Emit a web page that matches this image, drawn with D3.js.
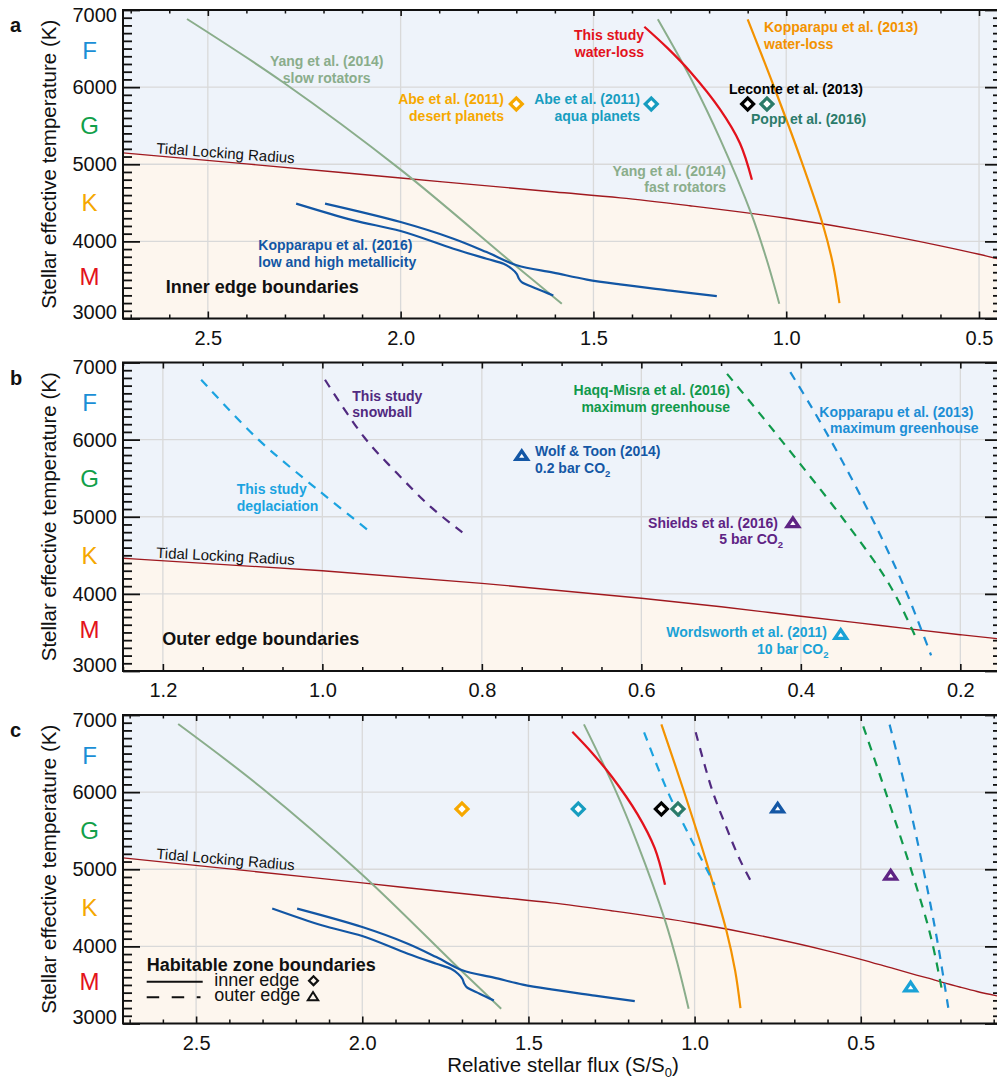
<!DOCTYPE html>
<html>
<head>
<meta charset="utf-8">
<script src="https://cdn.jsdelivr.net/npm/d3@7"></script>
<style>
  body { margin: 0; background: #fff; }
  svg text { font-family: "Liberation Sans", Arial, Helvetica, sans-serif; }
</style>
</head>
<body>
<svg id="chart" width="997" height="1080"></svg>
<script>
// ---------- data: [relative stellar flux S/S0, stellar effective temperature K] ----------
const tidalLocking = [[2.72,5147],[2.4,5005],[2.0,4822],[1.6,4640],[1.43,4565],[1.25,4462],[1.0,4300],[0.8,4137],[0.6,3943],[0.5,3833],[0.4,3710],[0.3,3590],[0.2,3470],[0.15,3415],[0.08,3350]];

// inner edge curves
const yangSlowRotators = [[2.554,6883],[2.304,6060],[2.0,4930],[1.708,3710],[1.582,3191]];
const yangFastRotators = [[1.333,6879],[1.241,6051],[1.172,5333],[1.089,4337],[1.050,3752],[1.018,3192]];
const thisStudyWaterLoss = [[1.368,6783],[1.309,6512],[1.249,6200],[1.172,5715],[1.120,5273],[1.089,4800]];
const kopparapu2013WaterLoss = [[1.100,6879],[1.033,6021],[0.964,5089],[0.904,4200],[0.878,3685],[0.862,3200]];
const kopparapu2016LowZ = [[2.271,4490],[2.122,4273],[2.0,4134],[1.863,3905],[1.777,3775],[1.733,3710],[1.712,3645],[1.699,3580],[1.693,3515],[1.686,3472],[1.647,3386],[1.604,3299]];
const kopparapu2016HighZ = [[2.196,4490],[2.0,4251],[1.863,4035],[1.777,3861],[1.699,3690],[1.604,3595],[1.517,3505],[1.431,3442],[1.30,3362],[1.18,3290]];

// outer edge curves
const thisStudyDeglaciation = [[1.152,6776],[1.0815,6013],[1.023,5495],[0.9896,5215],[0.9394,4797]];
const thisStudySnowball = [[0.9967,6776],[0.9478,6034],[0.906,5560],[0.8642,5128],[0.8245,4797]];
const haqqMisra2016MaxGreenhouse = [[0.4925,6853],[0.4466,6275],[0.4006,5682],[0.3505,5021],[0.3003,4308],[0.2794,3942],[0.2543,3402]];
const kopparapu2013MaxGreenhouse = [[0.4132,6875],[0.3881,6448],[0.3546,5845],[0.3213,5196],[0.2919,4579],[0.2668,4002],[0.2367,3204]];

// single-model results
const innerEdgeFlux = [1.70, 1.35, 1.10, 1.05];     // Abe desert, Abe aqua, Leconte, Popp
const innerEdgeTemp = [5780, 5780, 5780, 5780];
const outerEdgeFlux = [0.75, 0.41, 0.35];           // Wolf & Toon, Shields, Wordsworth
const outerEdgeTemp = [5780, 4910, 3460];

// ticks and labels
const fluxTicksWide = [2.5, 2.0, 1.5, 1.0, 0.5];
const fluxTicksOuter = [1.2, 1.0, 0.8, 0.6, 0.4, 0.2];
const tempTicks = [3000, 4000, 5000, 6000, 7000];
const spectralClasses = ["F", "G", "K", "M"];
const spectralTemps = [6480, 5500, 4500, 3540];

// ---------- styling ----------
const C = {
  sage: "#8aad8b", red: "#e3121c", orange: "#f39200", gold: "#f6a800",
  aqua: "#179dc0", popp: "#2b7b6a", kop16: "#1256a4", haqq: "#10994b",
  kopMG: "#1c8ed5", degl: "#1ba3e0", snow: "#512a80", wolf: "#1457a5",
  shields: "#5e2484", words: "#1aa2d6", tidal: "#a0191f",
  skyBg: "#eef3fa", warmBg: "#fdf6ee", grid: "#d9d9d9"
};
const spectralColors = ["#1a8fd6", "#11a04a", "#f5a700", "#e3131b"];
const innerEdgeColors = [C.gold, C.aqua, "#000000", C.popp];
const outerEdgeColors = [C.wolf, C.shields, C.words];

const innerCurves = [
  { data: yangSlowRotators, color: C.sage, width: 2 },
  { data: yangFastRotators, color: C.sage, width: 2 },
  { data: kopparapu2016LowZ, color: C.kop16, width: 2.2 },
  { data: kopparapu2016HighZ, color: C.kop16, width: 2.2 },
  { data: thisStudyWaterLoss, color: C.red, width: 2.3 },
  { data: kopparapu2013WaterLoss, color: C.orange, width: 2.2 }
];
const outerCurves = [
  { data: thisStudyDeglaciation, color: C.degl, width: 2.2, dash: "9,7.5" },
  { data: thisStudySnowball, color: C.snow, width: 2.2, dash: "9,7.5" },
  { data: haqqMisra2016MaxGreenhouse, color: C.haqq, width: 2.2, dash: "9,7.5" },
  { data: kopparapu2013MaxGreenhouse, color: C.kopMG, width: 2.2, dash: "9,7.5" }
];

// ---------- layout ----------
const L = 123, R = 1001;
const panels = [
  { key: "a", top: 10, bottom: 318.5, domain: [2.72, 0.443], major: fluxTicksWide, step: 0.1, inner: true, outer: false },
  { key: "b", top: 362.5, bottom: 671, domain: [1.25, 0.149], major: fluxTicksOuter, step: 0.05, inner: false, outer: true },
  { key: "c", top: 715, bottom: 1023.5, domain: [2.72, 0.078], major: fluxTicksWide, step: 0.1, inner: true, outer: true }
];

const svg = d3.select("#chart");
const tidalAt = d3.scaleLinear().domain(tidalLocking.map(d => d[0])).range(tidalLocking.map(d => d[1]));

// diamond (rotated square) and flattened triangle marker shapes
const diamondPath = size => d3.symbol(d3.symbolSquare, size)();
function trianglePath(a, h) {
  return d3.line()([[0, -2 * h / 3], [a, h / 3], [-a, h / 3]]) + "Z";
}

function addLabel(g, lines, opts) {
  const t = g.append("text")
    .attr("fill", opts.color)
    .attr("font-weight", opts.weight || "bold")
    .attr("font-size", opts.size || 14)
    .attr("text-anchor", opts.anchor || "start");
  lines.forEach((ln, i) => {
    const x = Array.isArray(opts.x) ? opts.x[i] : opts.x;
    const y = opts.y + i * (opts.lh || 16.6);
    const parts = ln.split("_");
    t.append("tspan").attr("x", x).attr("y", y).text(parts[0]);
    if (parts.length > 1) {
      t.append("tspan").attr("font-size", 9.5).attr("dy", 4).text(parts[1]);
    }
  });
  return t;
}

panels.forEach((p, pi) => {
  const x = d3.scaleLinear().domain(p.domain).range([L, R]);
  const y = d3.scaleLinear().domain([3000, 7000]).range([p.bottom, p.top]);
  const g = svg.append("g");
  const clipId = "clip-" + p.key;
  svg.append("clipPath").attr("id", clipId)
    .append("rect").attr("x", L).attr("y", p.top).attr("width", R - L).attr("height", p.bottom - p.top);
  const body = g.append("g").attr("clip-path", `url(#${clipId})`);

  // backgrounds split by the tidal locking radius
  body.append("rect").attr("x", L).attr("y", p.top).attr("width", R - L).attr("height", p.bottom - p.top).attr("fill", C.skyBg);
  body.append("path").datum(tidalLocking)
    .attr("fill", C.warmBg)
    .attr("d", d3.area().x(d => x(d[0])).y0(p.bottom).y1(d => y(d[1])).curve(d3.curveMonotoneX));

  // grid
  body.selectAll(".gx").data(p.major).join("line")
    .attr("x1", d => x(d)).attr("x2", d => x(d)).attr("y1", p.top).attr("y2", p.bottom)
    .attr("stroke", C.grid).attr("stroke-width", 1.3);
  body.selectAll(".gy").data(tempTicks).join("line")
    .attr("x1", L).attr("x2", R).attr("y1", d => y(d)).attr("y2", d => y(d))
    .attr("stroke", C.grid).attr("stroke-width", 1.3);

  // tidal locking line
  body.append("path").datum(tidalLocking)
    .attr("fill", "none").attr("stroke", C.tidal).attr("stroke-width", 1.3)
    .attr("d", d3.line().x(d => x(d[0])).y(d => y(d[1])).curve(d3.curveMonotoneX));

  const line = d3.line().x(d => x(d[0])).y(d => y(d[1])).curve(d3.curveCatmullRom.alpha(0.5));
  const curves = [].concat(p.inner ? innerCurves : [], p.outer ? outerCurves : []);
  body.selectAll(".curve").data(curves).join("path")
    .attr("fill", "none")
    .attr("stroke", d => d.color)
    .attr("stroke-width", d => d.width)
    .attr("stroke-dasharray", d => d.dash || null)
    .attr("d", d => line(d.data));

  // markers
  if (p.inner) {
    body.selectAll(".dia").data(innerEdgeFlux).join("path")
      .attr("d", diamondPath(72))
      .attr("transform", (d, i) => `translate(${x(d)},${y(innerEdgeTemp[i])}) rotate(45)`)
      .attr("fill", "#fff").attr("stroke", (d, i) => innerEdgeColors[i]).attr("stroke-width", 3.2);
  }
  if (p.outer) {
    body.selectAll(".tri").data(outerEdgeFlux).join("path")
      .attr("d", trianglePath(5.8, 8.6))
      .attr("transform", (d, i) => `translate(${x(d)},${y(outerEdgeTemp[i])})`)
      .attr("fill", "#fff").attr("stroke", (d, i) => outerEdgeColors[i])
      .attr("stroke-width", 3.3).attr("stroke-linejoin", "miter");
  }

  // tidal locking label following the line
  const lx = L + 33;
  const fl = x.invert(lx), fr = x.invert(lx + 120);
  const ly = y(tidalAt(fl)) - 2.5;
  const ang = Math.atan2(y(tidalAt(fr)) - y(tidalAt(fl)), 120) * 180 / Math.PI * 0.8;
  body.append("text")
    .attr("transform", `translate(${lx},${ly}) rotate(${ang})`)
    .attr("font-size", 15).attr("fill", "#111").text("Tidal Locking Radius");

  // frame
  g.append("rect").attr("x", L).attr("y", p.top).attr("width", R - L).attr("height", p.bottom - p.top)
    .attr("fill", "none").attr("stroke", "#111").attr("stroke-width", 2);

  // axes
  const lo = Math.min(...p.domain), hi = Math.max(...p.domain);
  const minorX = d3.range(Math.ceil(lo / p.step - 1e-9), Math.floor(hi / p.step + 1e-9) + 1)
    .map(k => +(k * p.step).toFixed(3))
    .filter(v => !p.major.some(m => Math.abs(m - v) < 1e-6));
  const minorY = d3.range(3100, 7000, 100).filter(v => v % 1000 !== 0);

  function styleAxis(sel, w) {
    sel.select(".domain").remove();
    sel.selectAll(".tick line").attr("stroke", "#111").attr("stroke-width", w);
    sel.attr("font-family", null).attr("font-size", null);
  }

  const bottomMajor = g.append("g").attr("transform", `translate(0,${p.bottom})`)
    .call(d3.axisBottom(x).tickValues(p.major).tickSizeInner(-7).tickSizeOuter(0).tickPadding(12).tickFormat(d3.format(".1f")));
  styleAxis(bottomMajor, 1.6);
  bottomMajor.selectAll("text").attr("font-size", 20).attr("fill", "#111");
  g.append("g").attr("transform", `translate(0,${p.bottom})`)
    .call(d3.axisBottom(x).tickValues(minorX).tickSizeInner(-4).tickSizeOuter(0).tickFormat(""))
    .call(s => styleAxis(s, 1.5));
  g.append("g").attr("transform", `translate(0,${p.top})`)
    .call(d3.axisTop(x).tickValues(p.major).tickSizeInner(-6).tickSizeOuter(0).tickFormat(""))
    .call(s => styleAxis(s, 1.6));
  g.append("g").attr("transform", `translate(0,${p.top})`)
    .call(d3.axisTop(x).tickValues(minorX).tickSizeInner(-3.5).tickSizeOuter(0).tickFormat(""))
    .call(s => styleAxis(s, 1.5));

  const leftMajor = g.append("g").attr("transform", `translate(${L},0)`)
    .call(d3.axisLeft(y).tickValues(tempTicks).tickSizeInner(-17).tickSizeOuter(0).tickPadding(6).tickFormat(d3.format("d")));
  styleAxis(leftMajor, 1.8);
  leftMajor.selectAll("text").attr("font-size", 20).attr("fill", "#111")
    .attr("y", d => d === 7000 ? 5 : d === 3000 ? -6 : 0);
  g.append("g").attr("transform", `translate(${L},0)`)
    .call(d3.axisLeft(y).tickValues(minorY).tickSizeInner(-9).tickSizeOuter(0).tickFormat(""))
    .call(s => styleAxis(s, 1.8));
  g.append("g").attr("transform", `translate(${R},0)`)
    .call(d3.axisRight(y).tickValues(tempTicks).tickSizeInner(-16).tickSizeOuter(0).tickFormat(""))
    .call(s => styleAxis(s, 1.8));
  g.append("g").attr("transform", `translate(${R},0)`)
    .call(d3.axisRight(y).tickValues(minorY).tickSizeInner(-8).tickSizeOuter(0).tickFormat(""))
    .call(s => styleAxis(s, 1.8));

  // spectral classes
  g.selectAll(".sc").data(spectralClasses).join("text")
    .attr("x", 89.5).attr("y", (d, i) => y(spectralTemps[i]))
    .attr("dy", "0.36em").attr("text-anchor", "middle")
    .attr("font-size", 24).attr("fill", (d, i) => spectralColors[i]).text(d => d);

  // y title and panel letter
  g.append("text")
    .attr("transform", `translate(56,${(p.top + p.bottom) / 2}) rotate(-90)`)
    .attr("text-anchor", "middle").attr("font-size", 20.5).attr("fill", "#111")
    .text("Stellar effective temperature (K)");
  g.append("text").attr("x", 10).attr("y", p.top + [21.7, 22.5, 21.7][pi])
    .attr("font-size", 20).attr("font-weight", "bold").attr("fill", "#111").text(p.key);

  p.g = g;
});

// ---------- panel a annotations ----------
const ga = panels[0].g;
addLabel(ga, ["Yang et al. (2014)", "slow rotators"], { color: C.sage, x: 326.7, y: 66, anchor: "middle" });
addLabel(ga, ["Abe et al. (2011)", "desert planets"], { color: C.gold, x: 504, y: 104, anchor: "end" });
addLabel(ga, ["Abe et al. (2011)", "aqua planets"], { color: C.aqua, x: 640, y: 104, anchor: "end" });
addLabel(ga, ["This study", "water-loss"], { color: C.red, x: 644, y: 40, anchor: "end" });
addLabel(ga, ["Kopparapu et al. (2013)", "water-loss"], { color: C.orange, x: 764, y: 32.3 });
addLabel(ga, ["Leconte et al. (2013)"], { color: "#000", x: 729, y: 94 });
addLabel(ga, ["Popp et al. (2016)"], { color: C.popp, x: 751, y: 124 });
addLabel(ga, ["Yang et al. (2014)", "fast rotators"], { color: C.sage, x: 726, y: 175.7, anchor: "end" });
addLabel(ga, ["Kopparapu et al. (2016)", "low and high metallicity"], { color: C.kop16, x: 258.3, y: 250 });
addLabel(ga, ["Inner edge boundaries"], { color: "#111", x: 165.7, y: 292.7, size: 18 });

// ---------- panel b annotations ----------
const gb = panels[1].g;
addLabel(gb, ["This study", "snowball"], { color: C.snow, x: 352.3, y: 400.7, lh: 16 });
addLabel(gb, ["This study", "deglaciation"], { color: C.degl, x: 236.7, y: 494.3, lh: 16.7 });
addLabel(gb, ["Haqq-Misra et al. (2016)", "maximum greenhouse"], { color: C.haqq, x: 730, y: 395, anchor: "end" });
addLabel(gb, ["Kopparapu et al. (2013)", "maximum greenhouse"], { color: C.kopMG, x: [819.3, 830], y: 416.7 });
addLabel(gb, ["Wolf & Toon (2014)", "0.2 bar CO_2"], { color: C.wolf, x: 535, y: 456 });
addLabel(gb, ["Shields et al. (2016)"], { color: C.shields, x: 778, y: 527.7, anchor: "end" });
addLabel(gb, ["5 bar CO_2"], { color: C.shields, x: 783, y: 544.3, anchor: "end" });
addLabel(gb, ["Wordsworth et al. (2011)"], { color: C.words, x: 827, y: 637.3, anchor: "end" });
addLabel(gb, ["10 bar CO_2"], { color: C.words, x: 828.5, y: 654, anchor: "end" });
addLabel(gb, ["Outer edge boundaries"], { color: "#111", x: 162.3, y: 644.7, size: 18 });

// ---------- panel c legend ----------
const gc = panels[2].g;
addLabel(gc, ["Habitable zone boundaries"], { color: "#111", x: 146.7, y: 970.5, size: 18 });
addLabel(gc, ["inner edge"], { color: "#111", x: 214.3, y: 985.8, size: 18, weight: "normal" });
addLabel(gc, ["outer edge"], { color: "#111", x: 214.3, y: 1000.8, size: 18, weight: "normal" });
gc.append("line").attr("x1", 146.7).attr("x2", 202.7).attr("y1", 981.7).attr("y2", 981.7)
  .attr("stroke", "#111").attr("stroke-width", 2);
gc.append("line").attr("x1", 146.7).attr("x2", 200.5).attr("y1", 997.3).attr("y2", 997.3)
  .attr("stroke", "#111").attr("stroke-width", 2).attr("stroke-dasharray", "12.5,12.5");
gc.append("path").attr("d", diamondPath(40)).attr("transform", "translate(313.5,980.7) rotate(45)")
  .attr("fill", "none").attr("stroke", "#111").attr("stroke-width", 2.2);
gc.append("path").attr("d", trianglePath(5.2, 8.2)).attr("transform", "translate(313,997.5)")
  .attr("fill", "none").attr("stroke", "#111").attr("stroke-width", 2);

// x title
svg.append("text").attr("x", 563).attr("y", 1072).attr("text-anchor", "middle")
  .attr("font-size", 20.5).attr("fill", "#111")
  .call(t => {
    t.append("tspan").text("Relative stellar flux (S/S");
    t.append("tspan").attr("font-size", 13).attr("dy", 5).text("0");
    t.append("tspan").attr("dy", -5).text(")");
  });
</script>
</body>
</html>
